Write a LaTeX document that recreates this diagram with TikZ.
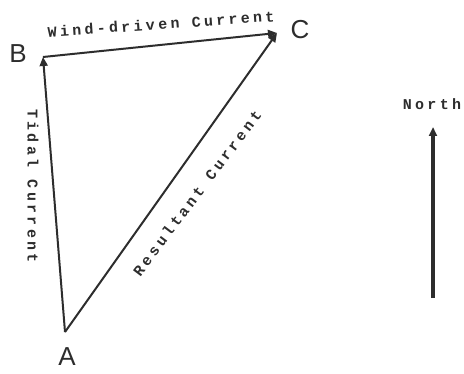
\documentclass[tikz,border=0pt]{standalone}
\usepackage{fontspec}
\setmainfont{Liberation Sans}
\newfontfamily\typefont[LetterSpace=22]{Liberation Mono}
\usetikzlibrary{arrows.meta}
\definecolor{inkgray}{RGB}{45,45,45}

\begin{document}
\begin{tikzpicture}[
  x=1pt, y=1pt,
  vlab/.style={font=\fontsize{26}{26}\selectfont, text=inkgray, inner sep=0pt},
  lab/.style={font=\fontsize{15}{15}\typefont\bfseries, text=inkgray, inner sep=0pt},
  arr/.style={-{Triangle[length=9pt, width=8pt]}, line width=2pt, draw=inkgray},
  northarr/.style={-{Triangle[length=9pt, width=8pt]}, line width=4pt, draw=inkgray}
]
\useasboundingbox (0,0) rectangle (464,373);
\coordinate (A) at (65,41);
\coordinate (B) at (43,316);
\coordinate (C) at (277,340);
\node[vlab] (la) at (67,16) {A};
\node[vlab] (lb) at (18,319) {B};
\node[vlab] (lc) at (300,343) {C};
\draw[arr] (A) -- (B); \draw[arr] (B) -- (C); \draw[arr] (A) -- (C);
\node[lab, rotate=-90] (tidal) at (33,187) {Tidal Current};
\node[lab, rotate=4] (wind) at (161,349) {Wind-driven Current};
\node[lab, rotate=53] (result) at (197,180) {Resultant Current};
% north pointer
\node[lab] (north) at (432,269) {North};
\coordinate (s) at (433,75);
\coordinate (n) at (433,246);
\draw[northarr] (s) -- (n);
\end{tikzpicture}
\end{document}
